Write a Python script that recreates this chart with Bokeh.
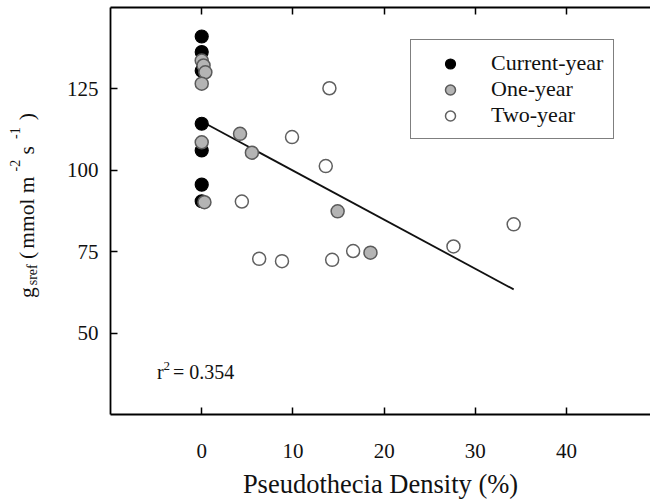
import numpy as np
from bokeh.plotting import figure
from bokeh.layouts import row
from bokeh.models import (Range1d, LinearAxis, Label, Legend, LegendItem,
                          FixedTicker, ColumnDataSource, Div)
from bokeh.embed import file_html
from bokeh.resources import INLINE

# ---------------- data ----------------
current_x = [0, 0, 0, 0, 0, 0, 0]
current_y = [141.1, 136.3, 130.6, 114.3, 106.1, 95.6, 90.5]

one_x = [0, 0.2, 0.4, 0, 0, 0.3, 4.2, 5.5, 14.9, 18.5]
one_y = [133.7, 132.2, 130.1, 126.6, 108.6, 90.2, 111.2, 105.4, 87.4, 74.7]

two_x = [14.0, 9.9, 13.6, 4.4, 6.3, 8.8, 14.3, 16.6, 27.6, 34.2]
two_y = [125.2, 110.2, 101.3, 90.4, 72.8, 72.1, 72.5, 75.2, 76.6, 83.4]

fit_intercept = 115.0
fit_slope = -1.508
r_squared = 0.354

x_ticks = [0, 10, 20, 30, 40]
y_ticks = [50, 75, 100, 125]
series_names = ["Current-year", "One-year", "Two-year"]

FONT = "Liberation Serif"

X0, X1 = -10, 49.2
Y0, Y1 = 25, 150
LAB_W = 50                 # width of the strip holding the y-axis title
LEFT, TOP, BOTTOM = 110, 7, 88
W, H = 650, 502
fw = W - LEFT
fh = H - TOP - BOTTOM


def dx(px):
    return X0 + (px - LEFT) / fw * (X1 - X0)


def dy(py):
    return Y1 - (py - TOP) / fh * (Y1 - Y0)


p = figure(width=W - LAB_W, height=H, x_range=Range1d(X0, X1),
           y_range=Range1d(Y0, Y1),
           output_backend="svg", toolbar_location=None,
           min_border_left=LEFT - LAB_W, min_border_right=0, min_border_top=TOP,
           min_border_bottom=BOTTOM, x_axis_type=None, y_axis_type=None)
p.outline_line_color = None
p.xgrid.visible = False
p.ygrid.visible = False
p.background_fill_color = "white"
p.border_fill_color = "white"


def style_axis(ax, labels=True):
    ax.axis_line_color = "black"
    ax.axis_line_width = 1.8
    ax.major_tick_line_color = "black"
    ax.major_tick_line_width = 1.5
    ax.major_tick_in = 7
    ax.major_tick_out = 0
    ax.minor_tick_line_color = None
    ax.major_label_text_font = FONT
    ax.major_label_text_font_size = "21px"
    ax.major_label_text_color = "#111111"
    if not labels:
        ax.major_label_text_alpha = 0
        ax.major_label_standoff = 0


xax = LinearAxis(ticker=FixedTicker(ticks=x_ticks))
style_axis(xax)
xax.major_label_standoff = 29
xax.axis_label = "Pseudothecia Density (%)"
xax.axis_label_text_font = FONT
xax.axis_label_text_font_size = "26.5px"
xax.axis_label_text_font_style = "normal"
xax.axis_label_text_color = "#111111"
xax.axis_label_standoff = 8
p.add_layout(xax, "below")

yax = LinearAxis(ticker=FixedTicker(ticks=y_ticks))
style_axis(yax)
yax.major_label_standoff = 12
p.add_layout(yax, "left")

tax = LinearAxis(ticker=FixedTicker(ticks=x_ticks),
                 major_label_overrides={t: "" for t in x_ticks})
style_axis(tax, labels=False)
p.add_layout(tax, "above")

# regression line
xmin = min(current_x + one_x + two_x)
xmax = max(current_x + one_x + two_x)
fx = np.array([xmin, xmax])
p.line(fx, fit_intercept + fit_slope * fx, line_color="#111111", line_width=1.8)

src_c = ColumnDataSource(dict(x=current_x, y=current_y))
src_o = ColumnDataSource(dict(x=one_x, y=one_y))
src_t = ColumnDataSource(dict(x=two_x, y=two_y))

r_c = p.scatter("x", "y", source=src_c, size=13, fill_color="black",
                line_color="black", line_width=1.2)
r_o = p.scatter("x", "y", source=src_o, size=13, fill_color="#b4b4b4",
                line_color="#5a5a5a", line_width=1.5)
r_t = p.scatter("x", "y", source=src_t, size=13, fill_color="white",
                line_color="#606060", line_width=1.5)

legend = Legend(items=[LegendItem(label=series_names[0], renderers=[r_c]),
                       LegendItem(label=series_names[1], renderers=[r_o]),
                       LegendItem(label=series_names[2], renderers=[r_t])],
                location=(300, 275))
legend.border_line_color = "black"
legend.border_line_width = 1.5
legend.background_fill_color = "white"
legend.background_fill_alpha = 1
legend.label_text_font = FONT
legend.label_text_font_size = "22px"
legend.label_text_color = "#111111"
legend.glyph_width = 58
legend.glyph_height = 25
legend.label_height = 20
legend.label_standoff = 12
legend.padding = 10
legend.spacing = 0
legend.margin = 0
p.add_layout(legend)

# r^2 annotation
for txt, bx, by, fs in [("r", 156.5, 371.7, "20px"),
                        ("2", 163.0, 365.5, "13px"),
                        (f"= {r_squared}", 172.5, 371.7, "20px")]:
    p.add_layout(Label(x=dx(bx), y=dy(by), text=txt, text_font=FONT,
                       text_font_size=fs, text_color="#111111",
                       text_align="left", text_baseline="alphabetic"))

# ---------------- y-axis title (rotated HTML text with sub/superscripts) ----
SUB = "font-size:14px;line-height:14px;position:relative;"
ytitle_html = (
    f'<div style="position:relative;width:{LAB_W}px;height:{H}px;'
    'overflow:visible;margin:0;padding:0;">'
    '<div style="position:absolute;left:16.9px;top:298px;'
    'transform:rotate(-90deg);transform-origin:0 0;white-space:nowrap;'
    f"font-family:'{FONT}';font-size:21.5px;line-height:21px;color:#111111;\">"
    f'g<span style="{SUB}top:3px;margin-left:2px;">sref</span>'
    ' (<span style="margin-left:3px;">mmol m</span>'
    f'<span style="{SUB}top:-14px;margin-left:5px;">-2</span>'
    f' s<span style="{SUB}top:-14px;margin-left:7px;">-1</span>'
    '<span style="margin-left:7px;">)</span>'
    '</div></div>')
ytitle = Div(text=ytitle_html, width=LAB_W, height=H, margin=0)

layout = row(ytitle, p, spacing=0)
open("out.html", "w").write(file_html(layout, INLINE))
